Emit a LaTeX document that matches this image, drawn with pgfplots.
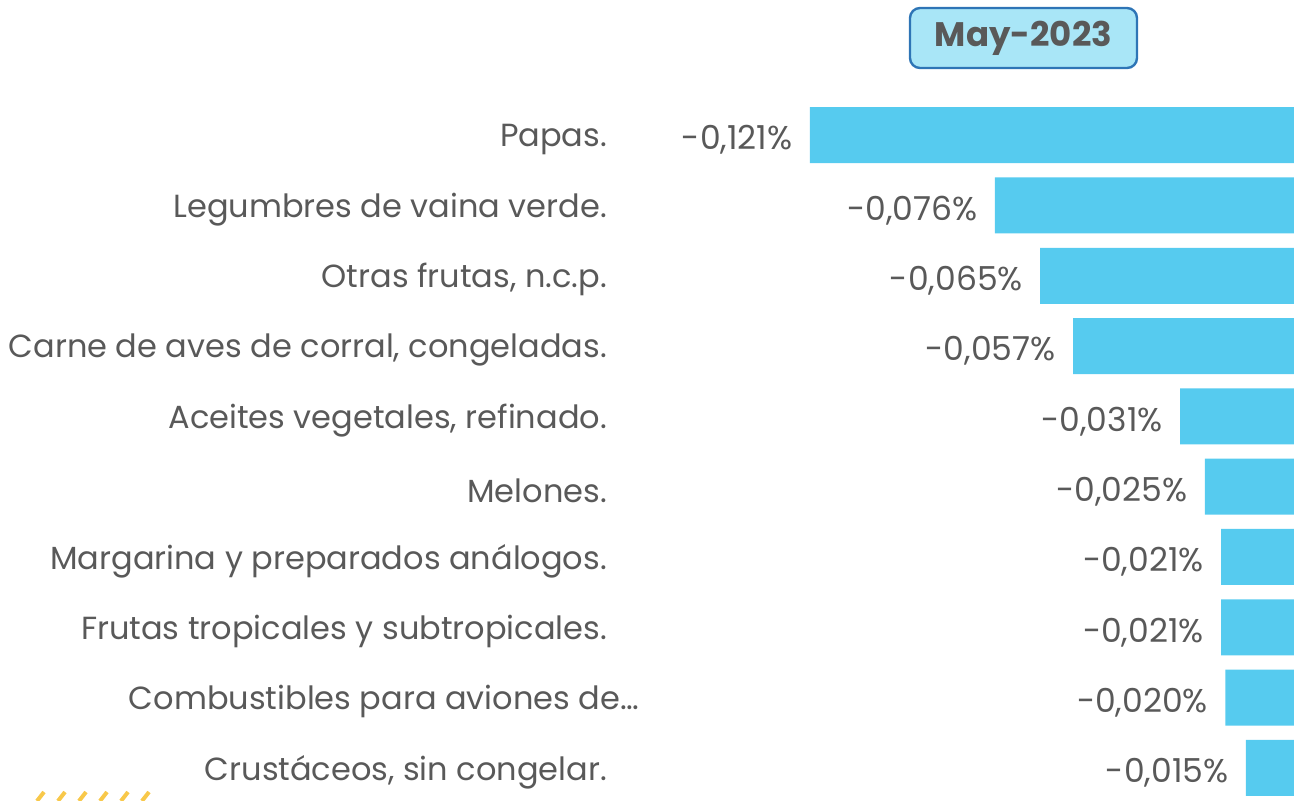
\documentclass[border=0pt]{standalone}
\usepackage{fontspec}
\setmainfont{Poppins}
\usepackage{pgfplots}
\pgfplotsset{compat=1.18}
\usepackage{pgfplotstable}
\definecolor{barblue}{HTML}{56CBEF}
\definecolor{txtgray}{HTML}{595959}
\definecolor{boxfill}{HTML}{A9E6F7}
\definecolor{boxborder}{HTML}{2E75B6}
\definecolor{dashy}{HTML}{F8C84A}
\pgfplotstableread{
i v lab
0 -0.121 -0,121
1 -0.076 -0,076
2 -0.065 -0,065
3 -0.057 -0,057
4 -0.031 -0,031
5 -0.025 -0,025
6 -0.021 -0,021
7 -0.021 -0,021
8 -0.020 -0,020
9 -0.015 -0,015
}\datatable
\begin{document}
\begin{tikzpicture}[x=1pt,y=1pt]
\begin{axis}[
  at={(320pt,-1.5pt)}, anchor=south west,
  scale only axis, width=327pt, height=351.5pt,
  xbar, bar width=28pt,
  xmin=-0.1623, xmax=-0.0033,
  ymin=-0.5, ymax=9.5, y dir=reverse,
  ytick={0,...,9},
  yticklabels={Papas., Legumbres de vaina verde., {Otras frutas, n.c.p.}, {Carne de aves de corral, congeladas.}, {Aceites vegetales, refinado.}, Melones., Margarina y preparados análogos., Frutas tropicales y subtropicales., Combustibles para aviones de…\kern-16pt, {Crustáceos, sin congelar.}},
  yticklabel style={anchor=east, xshift=-13pt, yshift=-2pt, font=\fontsize{16}{19}\selectfont, text=txtgray},
  xtick=\empty,
  axis line style={draw=none},
  major tick length=0pt,
  clip=true,
  point meta=explicit symbolic,
  nodes near coords={\pgfplotspointmeta\%},
  every node near coord/.append style={anchor=east, inner sep=0pt, xshift=-8.5pt, yshift=-2.5pt, font=\fontsize{16.5}{19}\selectfont, text=txtgray},
]
\addplot[fill=barblue, draw=none] table[x=v, y=i, meta=lab] {\datatable};
\end{axis}
\node[draw=boxborder, line width=1.2pt, fill=boxfill, rounded corners=5pt, minimum width=113.5pt, minimum height=30pt, inner sep=0pt, text=txtgray, font=\fontsize{17}{20}\selectfont\bfseries] at (511.75pt,381pt) {May-2023};
\foreach \xx in {37,58,79,100,121,142} {
  \draw[dashy, line width=2pt] (\xx*0.5pt,-0.5pt) -- (\xx*0.5pt+3.5pt,4pt);
}
\pgfresetboundingbox
\path (0pt,0pt) rectangle (647pt,400pt);
\end{tikzpicture}
\end{document}
